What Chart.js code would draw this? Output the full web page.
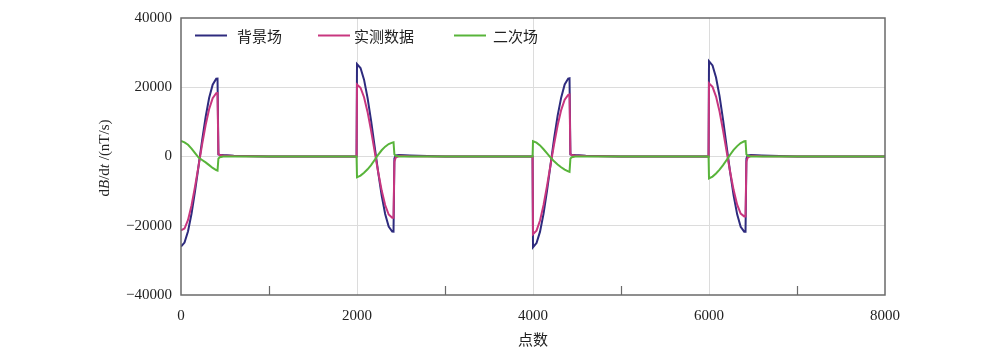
<!DOCTYPE html>
<html>
<head>
<meta charset="utf-8">
<script src="https://cdn.jsdelivr.net/npm/chart.js@4"></script>
<style>
  html, body { margin: 0; padding: 0; background: #fff; }
  #chart { display: block; }
</style>
</head>
<body>
<canvas id="chart" width="1000" height="353"></canvas>
<script>
// sample positions (点数), one row per pulse
const points = [
    0, 40, 80, 120, 160, 200, 240, 280, 320, 360, 400, 415, 425, 440, 480, 600, 1000, 1995,
    2000, 2040, 2080, 2120, 2160, 2200, 2240, 2280, 2320, 2360, 2400, 2415, 2425, 2440, 2480, 2600, 3000, 3995,
    4000, 4040, 4080, 4120, 4160, 4200, 4240, 4280, 4320, 4360, 4400, 4415, 4425, 4440, 4480, 4600, 5000, 5995,
    6000, 6040, 6080, 6120, 6160, 6200, 6240, 6280, 6320, 6360, 6400, 6415, 6425, 6440, 6480, 6600, 7000, 8000
];
// 背景场
const backgroundField = [
    -26000, -24860, -21590, -16450, -9920, -2670, 4680, 11420, 16970, 20750, 22480, 22500, 600, 500, 400, 250, 0, 0,
    26700, 25540, 22190, 16950, 10340, 2970, -4450, -11200, -16590, -20250, -21680, -21700, -600, 300, 400, 300, 0, 0,
    -26200, -25000, -21700, -16500, -9800, -2300, 5200, 11800, 17000, 20800, 22500, 22600, 600, 500, 400, 250, 0, 0,
    27500, 26300, 22800, 17400, 10600, 3000, -4500, -11300, -16700, -20300, -21700, -21700, -600, 300, 400, 300, 0, 0
];
// 实测数据
const measuredData = [
    -21300, -20800, -18330, -14060, -8640, -2620, 3490, 9090, 13710, 16850, 18290, 18300, 700, 400, 300, 150, 0, 0,
    20800, 19860, 17120, 12870, 7500, 1550, -4400, -9770, -14020, -16760, -17700, -17700, -1500, -300, 200, 100, 0, 0,
    -22400, -21400, -18500, -14000, -8400, -2300, 3600, 9000, 13400, 16400, 17800, 17900, 700, 400, 300, 150, 0, 0,
    21100, 20100, 17300, 13000, 7500, 1500, -4400, -9700, -13900, -16500, -17300, -17300, -1500, -300, 200, 100, 0, 0
];
// 二次场
const secondaryField = [
    4500, 4100, 3400, 2300, 1000, -300, -1000, -1700, -2500, -3300, -3950, -4100, -600, -200, 0, 0, 0, 0,
    -6000, -5500, -4700, -3700, -2500, -1000, 500, 1800, 2850, 3600, 4000, 4100, 600, 200, 0, 0, 0, 0,
    4400, 4000, 3200, 2100, 900, -300, -1400, -2300, -3100, -3800, -4300, -4450, -600, -200, 0, 0, 0, 0,
    -6300, -5800, -4900, -3800, -2500, -1000, 500, 1900, 3000, 3900, 4400, 4450, 600, 200, 0, 0, 0, 0
];
const seriesNames = ["背景场", "实测数据", "二次场"];
const seriesColors = ["#2e2b7e", "#c8367f", "#58b43a"];
const xTicks = [0, 2000, 4000, 6000, 8000];
const xMinorTicks = [1000, 3000, 5000, 7000];
const yTicks = [-40000, -20000, 0, 20000, 40000];

const serif = "'Liberation Serif', 'DejaVu Serif', serif";
const cjk = "'Noto Sans CJK SC', sans-serif";

const toXY = arr => points.map((x, i) => ({ x: x, y: arr[i] }));

const overlay = {
    id: "overlay",
    afterDatasetsDraw(chart) {
        const { ctx, chartArea: a, scales } = chart;
        ctx.save();
        // frame
        ctx.strokeStyle = "#6a6a6a";
        ctx.lineWidth = 1.5;
        ctx.strokeRect(a.left, a.top, a.right - a.left, a.bottom - a.top);
        // inward ticks on the bottom axis
        ctx.lineWidth = 1.2;
        xMinorTicks.forEach(v => {
            const px = Math.round(scales.x.getPixelForValue(v)) + 0.5;
            ctx.beginPath();
            ctx.moveTo(px, a.bottom);
            ctx.lineTo(px, a.bottom - 9);
            ctx.stroke();
        });
        // legend inside the plot
        const items = [[195, 237], [318, 354], [454, 493]];
        ctx.font = "15px " + cjk;
        ctx.textBaseline = "middle";
        ctx.fillStyle = "#222";
        items.forEach((pos, i) => {
            ctx.strokeStyle = seriesColors[i];
            ctx.lineWidth = 2;
            ctx.beginPath();
            ctx.moveTo(pos[0], 35.5);
            ctx.lineTo(pos[0] + 32, 35.5);
            ctx.stroke();
            ctx.fillText(seriesNames[i], pos[1], 36);
        });
        // y title with italic B and t
        const parts = [["d", ""], ["B", "italic "], ["/d", ""], ["t", "italic "], [" /(nT/s)", ""]];
        ctx.translate(105, 158);
        ctx.rotate(-Math.PI / 2);
        let total = 0;
        parts.forEach(p => { ctx.font = p[1] + "15px " + serif; total += ctx.measureText(p[0]).width; });
        let cx = -total / 2;
        ctx.textAlign = "left";
        parts.forEach(p => {
            ctx.font = p[1] + "15px " + serif;
            ctx.fillText(p[0], cx, 0);
            cx += ctx.measureText(p[0]).width;
        });
        ctx.restore();
        // x title
        ctx.save();
        ctx.font = "15px " + cjk;
        ctx.fillStyle = "#222";
        ctx.textAlign = "center";
        ctx.textBaseline = "middle";
        ctx.fillText("点数", (a.left + a.right) / 2, 339);
        ctx.restore();
    }
};

new Chart(document.getElementById("chart"), {
    type: "line",
    data: {
        datasets: [backgroundField, measuredData, secondaryField].map((arr, i) => ({
            label: seriesNames[i],
            data: toXY(arr),
            borderColor: seriesColors[i],
            backgroundColor: seriesColors[i],
            borderWidth: 2,
            pointRadius: 0,
            tension: 0,
            fill: false,
            order: 2 - i,
        })),
    },
    options: {
        responsive: false,
        animation: false,
        devicePixelRatio: 1,
        layout: { padding: { top: 15, right: 115, left: 0, bottom: 0 } },
        plugins: { legend: { display: false }, tooltip: { enabled: false } },
        scales: {
            x: {
                type: "linear",
                min: 0,
                max: 8000,
                afterFit: s => { s.height = 58; },
                afterBuildTicks: s => { s.ticks = xTicks.map(v => ({ value: v })); },
                ticks: {
                    font: { family: serif, size: 15 },
                    color: "#222",
                    padding: 12,
                    maxRotation: 0,
                    callback: v => String(v),
                },
                grid: {
                    drawTicks: false,
                    color: ctx => (ctx.tick && ctx.tick.value > 0 && ctx.tick.value < 8000) ? "#dcdcdc" : "rgba(0,0,0,0)",
                },
                border: { display: false },
            },
            y: {
                min: -40000,
                max: 40000,
                afterFit: s => { s.width = 181; },
                afterBuildTicks: s => { s.ticks = yTicks.map(v => ({ value: v })); },
                ticks: {
                    font: { family: serif, size: 15 },
                    color: "#222",
                    padding: 9,
                    callback: v => String(v).replace("-", "\u2212"),
                },
                grid: {
                    drawTicks: false,
                    color: ctx => (ctx.tick && Math.abs(ctx.tick.value) < 40000) ? "#dcdcdc" : "rgba(0,0,0,0)",
                },
                border: { display: false },
            },
        },
    },
    plugins: [overlay],
});
</script>
</body>
</html>
